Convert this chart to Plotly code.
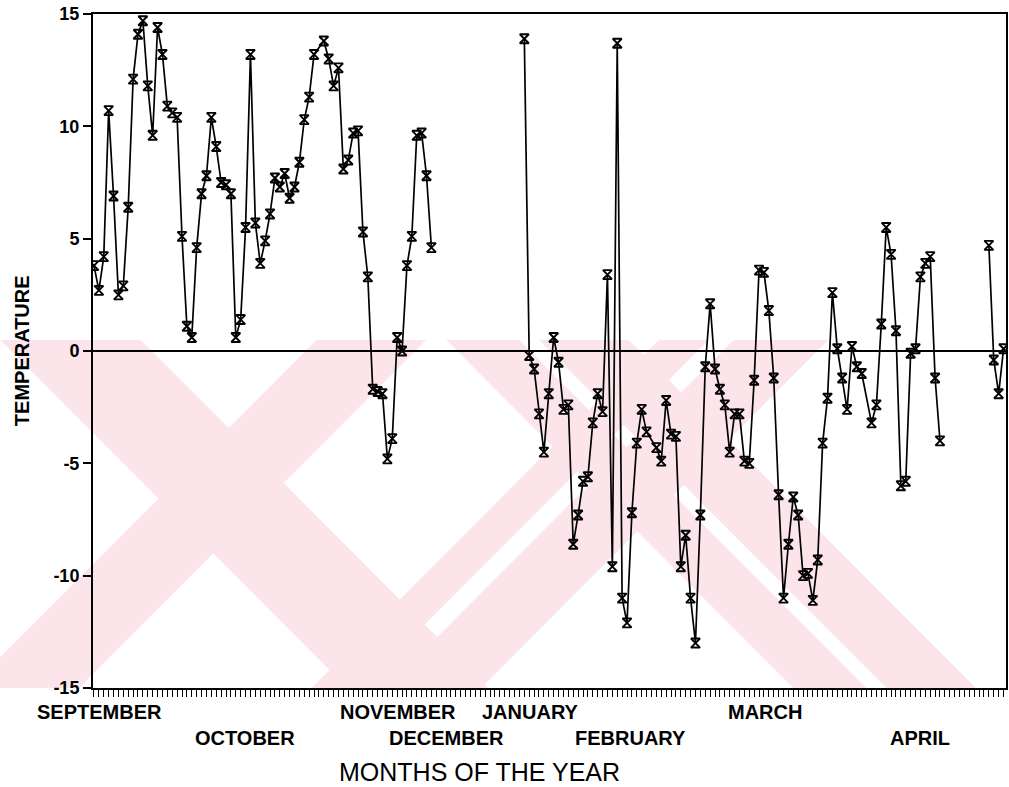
import plotly.graph_objects as go

# Daily mean temperatures, indexed by day counted from 1 September.
# Each run is a block of consecutive days; None marks a day with no reading.
autumn_start = 0
autumn_temp = [3.8, 2.7, 4.2, 10.7, 6.9, 2.5, 2.9, 6.4, 12.1, 14.1,
               14.7, 11.8, 9.6, 14.4, 13.2, 10.9, 10.6, 10.4, 5.1, 1.1,
               0.6, 4.6, 7.0, 7.8, 10.4, 9.1, 7.5, 7.4, 7.0, 0.6,
               1.4, 5.5, 13.2, 5.7, 3.9, 4.9, 6.1, 7.7, 7.3, 7.9,
               6.8, 7.3, 8.4, 10.3, 11.3, 13.2, None, 13.8, 13.0, 11.8,
               12.6, 8.1, 8.5, 9.7, 9.8, 5.3, 3.3, -1.7, -1.8, -1.9,
               -4.8, -3.9, 0.6, 0.0, 3.8, 5.1, 9.6, 9.7, 7.8, 4.6]

winter_start = 88
winter_temp = [13.9, -0.2, -0.8, -2.8, -4.5, -1.9, 0.6, -0.5, -2.6, -2.4,
               -8.6, -7.3, -5.8, -5.6, -3.2, -1.9, -2.7, 3.4, -9.6, 13.7,
               -11.0, -12.1, -7.2, -4.1, -2.6, -3.6, None, -4.3, -4.9, -2.2,
               -3.7, -3.8, -9.6, -8.2, -11.0, -13.0, -7.3, -0.7, 2.1, -0.8,
               -1.7, -2.4, -4.5, -2.8, -2.8, -4.9, -5.0, -1.3, 3.6, 3.5,
               1.8, -1.2, -6.4, -11.0, -8.6, -6.5, -7.3, -10.0, -9.9, -11.1,
               -9.3, -4.1, -2.1, 2.6, 0.1, -1.2, -2.6, 0.2, -0.7, -1.0,
               None, -3.2, -2.4, 1.2, 5.5, 4.3, 0.9, -6.0, -5.8, -0.1,
               0.1, 3.3, 3.9, 4.2, -1.2, -4.0]

april_start = 183
april_temp = [4.7, -0.4, -1.9, 0.1]

runs = [(autumn_start, autumn_temp), (winter_start, winter_temp), (april_start, april_temp)]

# Month captions along the day axis (two staggered rows)
month_names = ["SEPTEMBER", "OCTOBER", "NOVEMBER", "DECEMBER",
               "JANUARY", "FEBRUARY", "MARCH", "APRIL"]
month_pos = [1.2, 30.8, 62.2, 72.0, 89.2, 109.8, 137.3, 169.0]
month_row = [0, 1, 0, 1, 0, 1, 0, 1]

y_ticks = [-15, -10, -5, 0, 5, 10, 15]
y_tick_text = ["-15", "-10", "-5", "0", "5", "10", "15"]
day_span = [-0.2, 186.5]

FONT = "Liberation Sans, Arial, Helvetica, sans-serif"
W, H = 1009, 787
M_L, M_R, M_T, M_B = 93, 1, 14, 99

# Faint pink background emblem: diagonal bands in page pixels.
# ("\\", a, b) covers a <= x - y <= b ; ("/", a, b) covers a <= x + y <= b
EMBLEM_TOP, EMBLEM_BOTTOM = 340, 688
emblem_bands = [("\\", -340, -199), ("/", 657, 767),
                ("\\", 107, 180), ("\\", 200, 290),
                ("/", 1000, 1050), ("/", 1075, 1170)]
EMBLEM_COLOR = "rgb(252,229,234)"


def to_paper(px, py):
    pw = W - M_L - M_R
    ph = H - M_T - M_B
    return (px - M_L) / pw, (H - M_B - py) / ph


def band_path(kind, a, b):
    y0, y1 = EMBLEM_TOP, EMBLEM_BOTTOM
    if kind == "\\":
        pts = [(a + y0, y0), (b + y0, y0), (b + y1, y1), (a + y1, y1)]
    else:
        pts = [(a - y0, y0), (b - y0, y0), (b - y1, y1), (a - y1, y1)]
    pts = [to_paper(px, py) for px, py in pts]
    return "M " + " L ".join(f"{x:.4f},{y:.4f}" for x, y in pts) + " Z"


fig = go.Figure()

for kind, a, b in emblem_bands:
    fig.add_shape(type="path", path=band_path(kind, a, b), xref="paper", yref="paper",
                  fillcolor=EMBLEM_COLOR, line=dict(width=0), layer="below")

for start, temps in runs:
    days = [start + i for i in range(len(temps))]
    fig.add_trace(go.Scatter(
        x=days, y=temps, mode="lines+markers", connectgaps=True,
        line=dict(color="black", width=1.7),
        marker=dict(symbol="hourglass-open", size=9, color="black",
                    line=dict(color="black", width=1.9)),
        showlegend=False, hoverinfo="x+y",
    ))

row_y = [-0.036, -0.074]
for name, pos, row in zip(month_names, month_pos, month_row):
    fig.add_annotation(
        x=pos, y=row_y[row], xref="x", yref="paper",
        text=name, showarrow=False, xanchor="center", yanchor="middle",
        font=dict(family=FONT, size=20, color="black", weight="bold"),
    )

fig.add_annotation(
    x=0.423, y=-0.125, xref="paper", yref="paper",
    text="MONTHS OF THE YEAR", showarrow=False,
    xanchor="center", yanchor="middle",
    font=dict(family=FONT, size=25, color="black"),
)
fig.add_annotation(
    x=-0.0776, y=0.50, xref="paper", yref="paper",
    text="TEMPERATURE", showarrow=False, textangle=-90,
    xanchor="center", yanchor="middle",
    font=dict(family=FONT, size=20, color="black", weight="bold"),
)

fig.update_layout(
    width=W, height=H,
    margin=dict(l=M_L, r=M_R, t=M_T, b=M_B),
    paper_bgcolor="white", plot_bgcolor="rgba(0,0,0,0)",
    xaxis=dict(
        range=day_span, showgrid=False, zeroline=False,
        showline=True, linecolor="black", linewidth=2, mirror=True,
        ticks="outside", tick0=0, dtick=1, ticklen=7, tickwidth=1.2,
        tickcolor="black", showticklabels=False,
    ),
    yaxis=dict(
        range=[-15, 15], tickvals=y_ticks, ticktext=y_tick_text, showgrid=False,
        zeroline=True, zerolinecolor="black", zerolinewidth=2,
        showline=True, linecolor="black", linewidth=2, mirror=True,
        ticks="outside", ticklen=8, tickwidth=1.5, tickcolor="black",
        tickfont=dict(family=FONT, size=18, color="black", weight="bold"),
    ),
)

fig.write_html("out.html")
